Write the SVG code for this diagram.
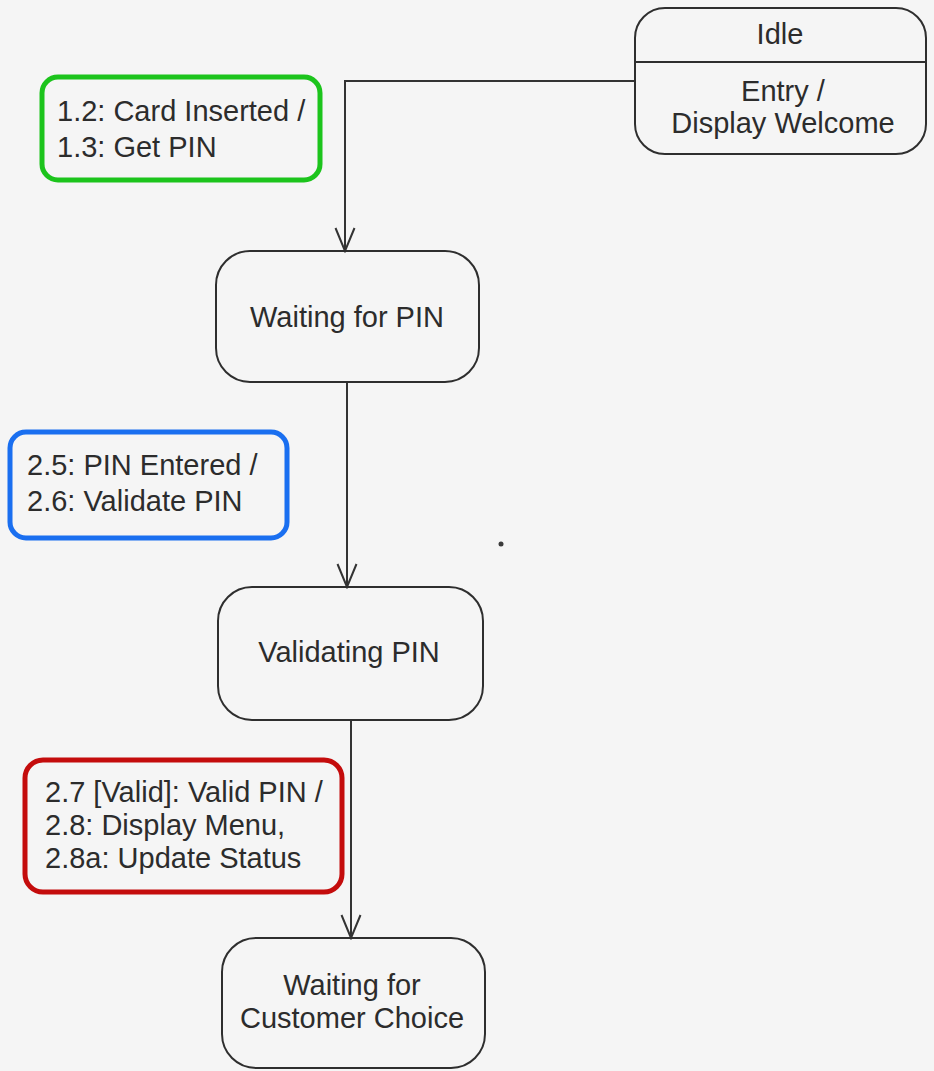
<svg xmlns="http://www.w3.org/2000/svg" width="934" height="1071" viewBox="0 0 934 1071">
  <style>
    .state { fill: none; stroke: #2e2e2e; stroke-width: 2; }
    .label { font-family: "Liberation Sans", Arial, sans-serif; font-size: 29px; fill: #2c2c2c; }
    .mid { text-anchor: middle; }
    .note { fill: none; stroke-width: 5; }
    .wire { fill: none; stroke: #333; stroke-width: 2; }
  </style>
  <defs>
    <!-- open V arrowhead, drawn along +x so orient="auto" follows the line -->
    <marker id="open-arrow" markerUnits="userSpaceOnUse" markerWidth="28" markerHeight="24" viewBox="-26 -12 28 24" refX="0" refY="0" orient="auto">
      <path d="M -23 -9.5 L 0 0 L -23 9.5" fill="none" stroke="#333" stroke-width="2"/>
    </marker>
  </defs>

  <rect width="934" height="1071" fill="#f5f5f5"/>

  <!-- transitions -->
  <g id="connectors">
    <path class="wire" d="M 636 81 H 345 V 251" marker-end="url(#open-arrow)"/>
    <path class="wire" d="M 347 382 V 587" marker-end="url(#open-arrow)"/>
    <path class="wire" d="M 351 720 V 938" marker-end="url(#open-arrow)"/>
  </g>

  <g id="idle">
    <rect class="state" x="635" y="8" width="291" height="146" rx="30"/>
    <line class="state" x1="635" y1="62" x2="926" y2="62"/>
    <text class="label mid" x="780" y="44">Idle</text>
    <text class="label mid" x="783" y="101">Entry /</text>
    <text class="label mid" x="783" y="133">Display Welcome</text>
  </g>

  <g id="note-card-inserted">
    <rect class="note" x="42" y="77" width="278" height="103" rx="16" stroke="#1cc41c"/>
    <text class="label" x="57" y="121">1.2: Card Inserted /</text>
    <text class="label" x="57" y="157">1.3: Get PIN</text>
  </g>

  <g id="waiting-for-pin">
    <rect class="state" x="216" y="251" width="263" height="131" rx="34"/>
    <text class="label mid" x="347" y="327">Waiting for PIN</text>
  </g>

  <g id="note-pin-entered">
    <rect class="note" x="10" y="432" width="277" height="106" rx="16" stroke="#1a6ff0"/>
    <text class="label" x="27" y="475">2.5: PIN Entered /</text>
    <text class="label" x="27" y="511">2.6: Validate PIN</text>
  </g>

  <circle cx="501" cy="544" r="2.5" fill="#3a3a3a"/>

  <g id="validating-pin">
    <rect class="state" x="218" y="587" width="265" height="133" rx="34"/>
    <text class="label mid" x="349" y="662">Validating PIN</text>
  </g>

  <g id="note-valid-pin">
    <rect class="note" x="25" y="760" width="317" height="132" rx="18" stroke="#c40c0c"/>
    <text class="label" x="45" y="802">2.7 [Valid]: Valid PIN /</text>
    <text class="label" x="45" y="835">2.8: Display Menu,</text>
    <text class="label" x="45" y="868">2.8a: Update Status</text>
  </g>

  <g id="waiting-for-customer-choice">
    <rect class="state" x="222" y="938" width="263" height="130" rx="34"/>
    <text class="label mid" x="352" y="995">Waiting for</text>
    <text class="label mid" x="352" y="1028">Customer Choice</text>
  </g>
</svg>
